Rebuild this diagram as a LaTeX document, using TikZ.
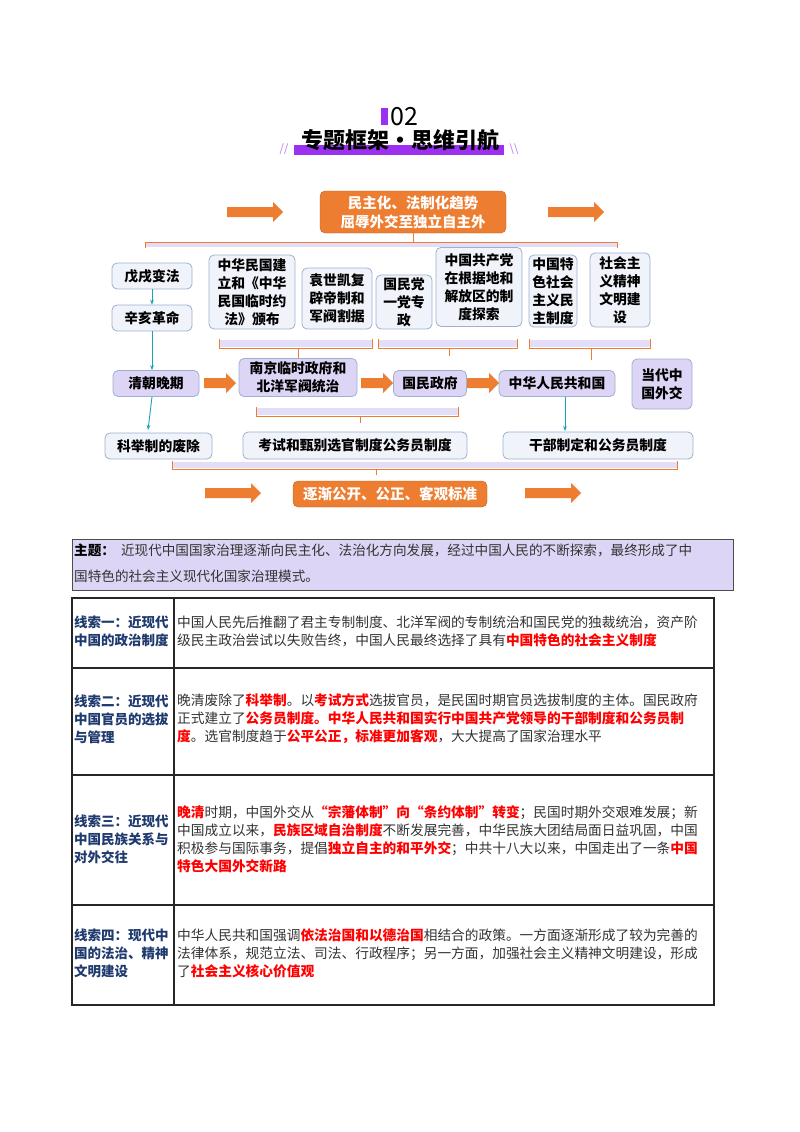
\documentclass[tikz,border=0pt]{standalone}
\usepackage{fontspec}
\setmainfont{Noto Sans CJK SC}
\usetikzlibrary{arrows.meta}
\XeTeXlinebreaklocale "zh"
\definecolor{org}{HTML}{ED7D31}
\definecolor{lav}{HTML}{DCD5F5}
\definecolor{lavline}{HTML}{E4DDF8}
\definecolor{boxline}{HTML}{9DB0CF}
\definecolor{boxfill}{HTML}{F0F3F9}
\definecolor{teal}{HTML}{1AA3B5}
\definecolor{navy}{HTML}{1F3A6E}
\definecolor{purp}{HTML}{9B30F0}
\definecolor{txt}{HTML}{333333}
\newcommand\hl[1]{\textcolor{red}{\bfseries #1}}
\begin{document}
\begin{tikzpicture}[x=1pt,y=-1pt,
  gbox/.style={draw=boxline,fill=boxfill,rounded corners=5,line width=0.8pt,font=\fontsize{13.8}{18}\selectfont\bfseries,align=center,inner sep=1pt},
  pbox/.style={gbox,fill=lav},
  obox/.style={draw=org!80!black,fill=org,rounded corners=5,text=white,font=\fontsize{14.5}{19}\selectfont\bfseries,align=center},
  tarr/.style={draw=teal,line width=0.9pt,-{Stealth[length=5pt]}},
  brk/.style={draw=org,line width=1pt},
  lbl/.style={anchor=west,align=left,text=navy,font=\fontsize{13.5}{18}\selectfont\bfseries,inner sep=0pt},
  body/.style={anchor=west,align=left,text=txt,font=\fontsize{13.7}{18}\selectfont,inner sep=0pt},
  oarrow/.pic={\fill[org] (-28,-5)--(18,-5)--(18,-10)--(28,0)--(18,10)--(18,5)--(-28,5)--cycle;},
  sarrow/.pic={\fill[org] (-16,-5)--(6,-5)--(6,-10)--(16,0)--(6,10)--(6,5)--(-16,5)--cycle;}]
\useasboundingbox (0,0) rectangle (800,1132);
\fill[white] (0,0) rectangle (800,1132);
% header
\fill[purp] (381,108) rectangle (388,125);
\node[font=\fontsize{25}{25}\selectfont] (num) at (404,117) {02};
\fill[purp] (294,145) rectangle (504,155);
\node[font=\fontsize{22}{22}\selectfont\bfseries] (title) at (400,140) {专题框架·思维引航};
\node[text=purp!70,font=\fontsize{11}{11}\selectfont] (s1) at (284,149) {//};
\node[text=purp!70,font=\fontsize{11}{11}\selectfont] (s2) at (514,149) {\textbackslash\textbackslash};
% top
\node[obox,minimum width=186,minimum height=42] (top) at (413,212) {民主化、法制化趋势\\屈辱外交至独立自主外};
\pic at (255,212) {oarrow};
\pic at (576,212) {oarrow};
\fill[lavline] (145,242) rectangle (617,247);
\draw[brk] (145,248)--(145,242)--(617,242)--(617,248);
\draw[brk] (top.south)--(413,242);
% row 1
\node[gbox,minimum width=80,minimum height=26] (wx) at (152,276) {戊戌变法};
\node[gbox,minimum width=80,minimum height=26] (xh) at (152,318) {辛亥革命};
\node[gbox,minimum width=86,minimum height=74] (zh) at (252,292) {中华民国建\\立和《中华\\民国临时约\\法》颁布};
\node[gbox,minimum width=70,minimum height=61] (ys) at (337,298.5) {袁世凯复\\辟帝制和\\军阀割据};
\node[gbox,minimum width=56,minimum height=54] (gm) at (404,302) {国民党\\一党专\\政};
\node[gbox,minimum width=86,minimum height=79,anchor=north] (gc) at (479,247) {中国共产党\\在根据地和\\解放区的制\\度探索};
\node[gbox,minimum width=48,minimum height=72] (ts) at (553,291) {中国特\\色社会\\主义民\\主制度};
\node[gbox,minimum width=60,minimum height=74] (jm) at (620,290) {社会主\\义精神\\文明建\\设};
% brackets row 2
\fill[lavline] (219,340) rectangle (372,347);
\draw[brk] (219,339)--(219,348)--(372,348)--(372,339);
\fill[lavline] (378,340) rectangle (517,347);
\draw[brk] (378,339)--(378,348)--(517,348)--(517,339);
\fill[lavline] (529,340) rectangle (650,347);
\draw[brk] (529,339)--(529,348)--(650,348)--(650,339);
% row 2
\node[pbox,minimum width=86,minimum height=26] (qc) at (156,383.5) {清朝晚期};
\node[pbox,minimum width=118,minimum height=38] (nj) at (298,377.5) {南京临时政府和\\北洋军阀统治};
\node[pbox,minimum width=73,minimum height=26] (gz) at (430,383.5) {国民政府};
\node[pbox,minimum width=116,minimum height=26] (rm) at (557,383.5) {中华人民共和国};
\node[pbox,minimum width=60,minimum height=50] (dd) at (662,384) {当代中\\国外交};
\draw[brk] (298,348)--(nj.north);
\draw[brk] (449,348)--(449,356);
\draw[brk] (591,348)--(591,360);
\pic at (220,383) {sarrow};
\pic at (377,383) {sarrow};
\pic at (483,383) {sarrow};
\draw[tarr] (wx.south)--(xh.north);
\draw[tarr] (xh.south)--(qc.north -| xh.south);
\draw[tarr] (qc.south -| xh.south)--(148,430);
\draw[tarr] (rm.south -| 565,0)--(565,431);
% row 3
\fill[lavline] (256,408) rectangle (458,415);
\draw[brk] (256,407)--(256,416)--(458,416)--(458,407);
\draw[brk] (360,416)--(360,423);
\node[gbox,minimum width=107,minimum height=26] (kj) at (158.5,446) {科举制的废除};
\node[gbox,minimum width=224,minimum height=27] (ks) at (355,445.5) {考试和甄别选官制度公务员制度};
\node[gbox,minimum width=190,minimum height=27] (gb) at (598,445.5) {干部制定和公务员制度};
\fill[lavline] (172,462) rectangle (677,468);
\draw[brk] (172,461)--(172,469)--(677,469)--(677,461);
\draw[brk] (376,469)--(376,475);
\node[obox,minimum width=194,minimum height=26] (bot) at (390,494) {逐渐公开、公正、客观标准};
\pic at (233,493) {oarrow};
\pic at (553,493) {oarrow};
% theme box
\node[draw=black!70,line width=1pt,fill=lav,minimum width=661,minimum height=51,anchor=north west,inner sep=0] (theme) at (72,539) {};
\node[anchor=north west,align=left,inner sep=0,text=txt,font=\fontsize{13.6}{26}\selectfont] (themet) at (74,544) {\textbf{\textcolor{black}{主题：}}\ \ 近现代中国国家治理逐渐向民主化、法治化方向发展，经过中国人民的不断探索，最终形成了中\\国特色的社会主义现代化国家治理模式。};
% table
\draw[black!85,line width=2pt] (72,598) rectangle (714,1005);
\draw[black!85,line width=1.3pt] (174,598)--(174,1005);
\draw[black!85,line width=1.3pt] (72,668)--(714,668) (72,775)--(714,775) (72,905)--(714,905);
\node[lbl] (l1) at (74,631) {线索一：近现代\\中国的政治制度};
\node[lbl] (l2) at (74,719) {线索二：近现代\\中国官员的选拔\\与管理};
\node[lbl] (l3) at (74,839) {线索三：近现代\\中国民族关系与\\对外交往};
\node[lbl] (l4) at (74,953) {线索四：现代中\\国的法治、精神\\文明建设};
\node[body] (t1) at (177,631) {中国人民先后推翻了君主专制制度、北洋军阀的专制统治和国民党的独裁统治，资产阶\\级民主政治尝试以失败告终，中国人民最终选择了具有\hl{中国特色的社会主义制度}};
\node[body] (t2) at (177,719) {晚清废除了\hl{科举制}。以\hl{考试方式}选拔官员，是民国时期官员选拔制度的主体。国民政府\\正式建立了\hl{公务员制度。中华人民共和国实行中国共产党领导的干部制度和公务员制}\\\hl{度}。选官制度趋于\hl{公平公正，标准更加客观}，大大提高了国家治理水平};
\node[body] (t3) at (177,839) {\hl{晚清}时期，中国外交从\hl{“宗藩体制”向“条约体制”转变}；民国时期外交艰难发展；新\\中国成立以来，\hl{民族区域自治制度}不断发展完善，中华民族大团结局面日益巩固，中国\\积极参与国际事务，提倡\hl{独立自主的和平外交}；中共十八大以来，中国走出了一条\hl{中国}\\\hl{特色大国外交新路}};
\node[body] (t4) at (177,953) {中华人民共和国强调\hl{依法治国和以德治国}相结合的政策。一方面逐渐形成了较为完善的\\法律体系，规范立法、司法、行政程序；另一方面，加强社会主义精神文明建设，形成\\了\hl{社会主义核心价值观}};
\end{tikzpicture}
\end{document}
